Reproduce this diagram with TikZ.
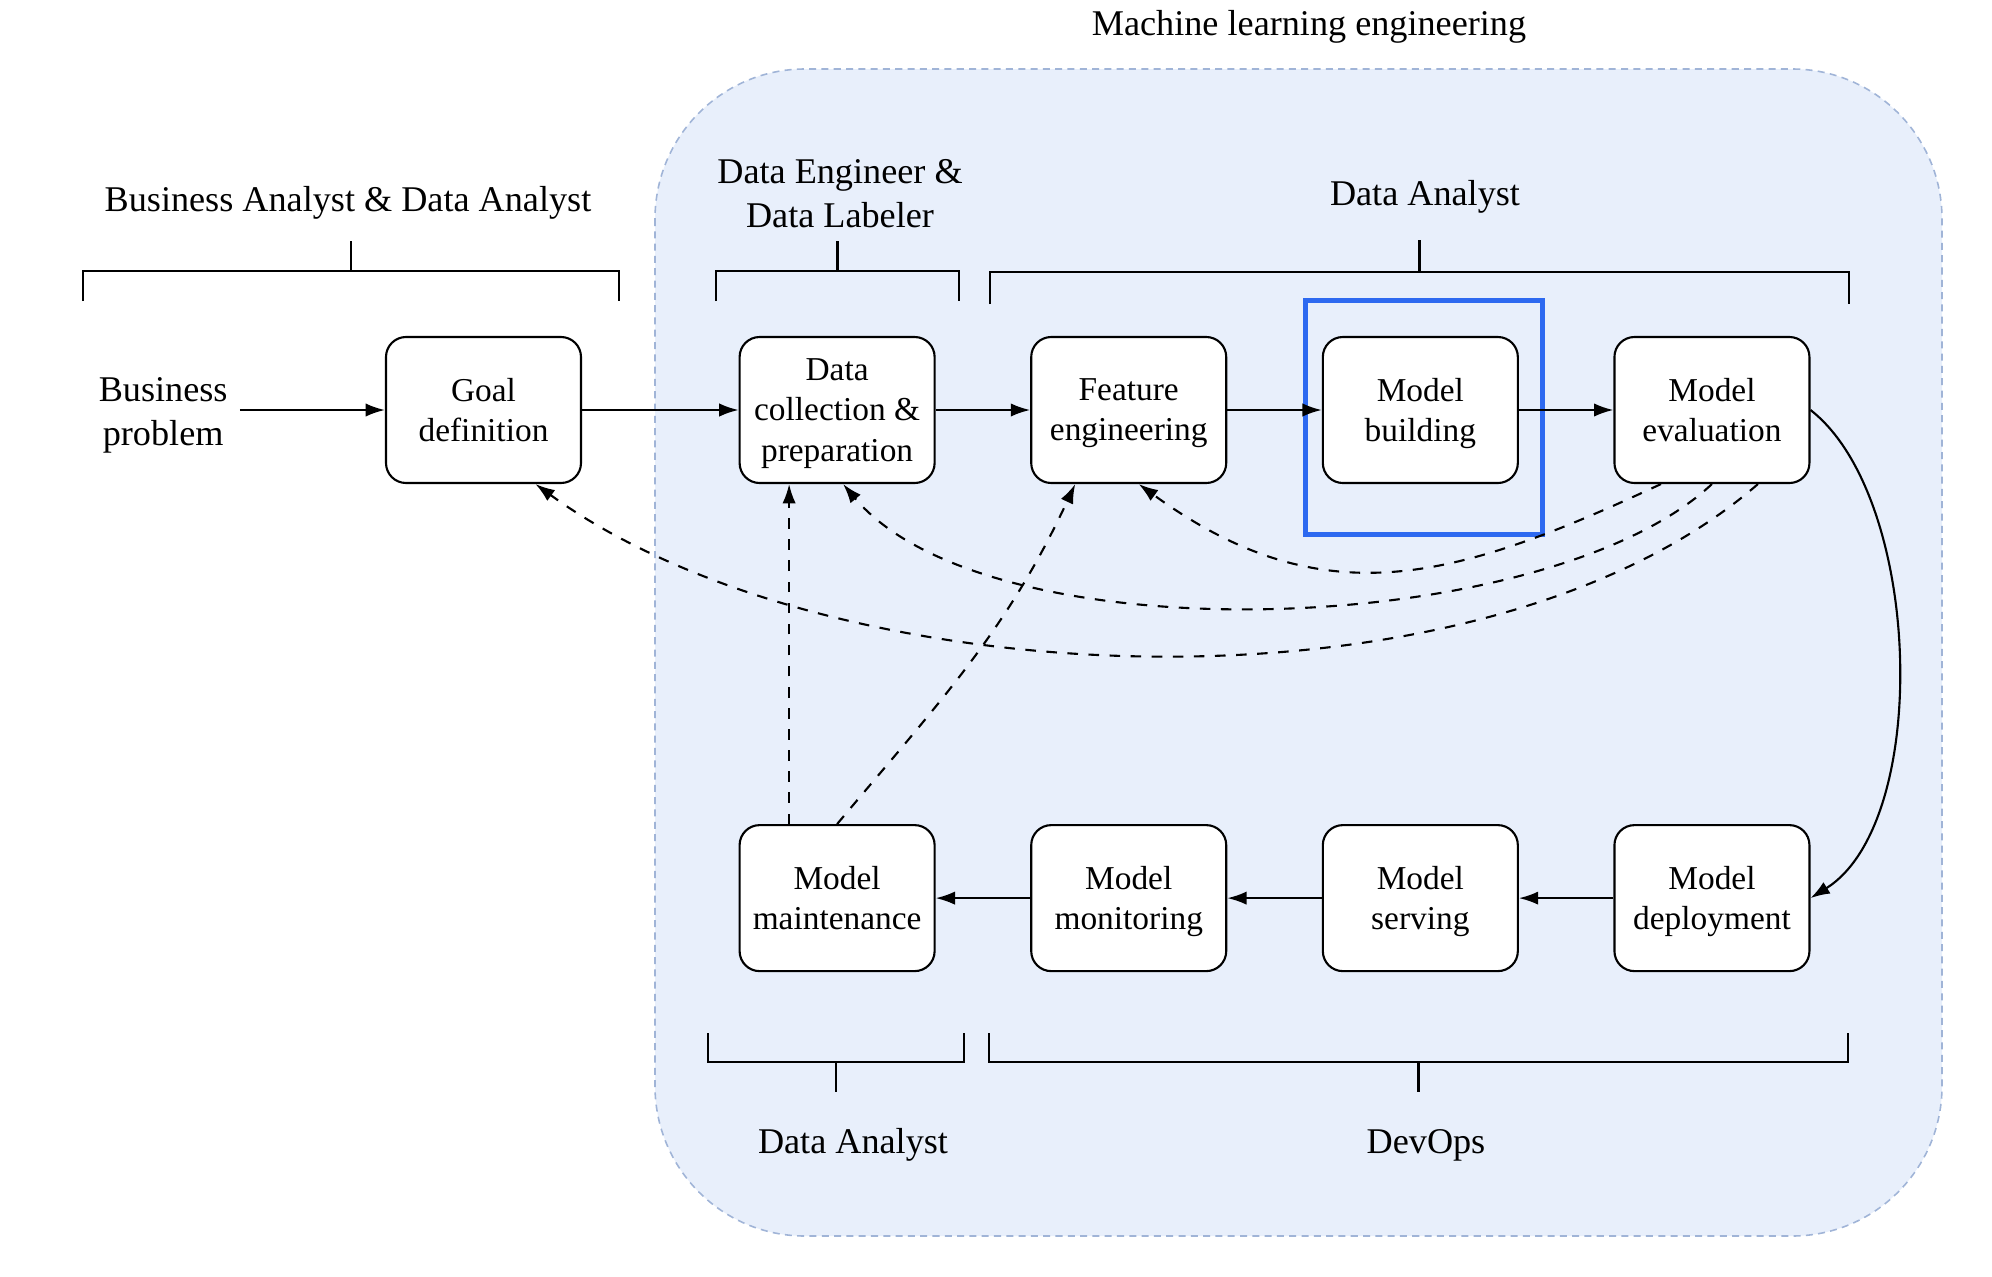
\documentclass[tikz,border=0pt]{standalone}
\usepackage{fontspec}
\setmainfont{Liberation Serif}
\usetikzlibrary{positioning,arrows.meta}

\definecolor{mlfill}{RGB}{232,239,251}
\definecolor{mledge}{RGB}{160,180,215}
\definecolor{focusblue}{RGB}{45,105,240}

\tikzset{
	stage/.style={draw, fill=white, rounded corners=0.2cm, line width=0.6pt, minimum width=1.95cm, minimum height=1.46cm, inner sep=0pt, text depth=0pt, align=center, font=\fontsize{9.5}{11.4}\selectfont},
	role/.style={align=center, font=\fontsize{10.3}{12.5}\selectfont},
	flow/.style={-{Latex[length=5.5pt,width=3.8pt]}, line width=0.6pt},
	feedback/.style={flow, dashed},
	rolebrace/.style={line width=0.6pt}
}

\begin{document}
\begin{tikzpicture}
	\useasboundingbox (0,0) rectangle (19.92,-12.76);
	
	
	
	% machine learning engineering area
	\draw [mledge, fill=mlfill, line width=0.45pt, dash pattern=on 2pt off 1.5pt, rounded corners=1.5cm] (6.55,-0.69) rectangle (19.42,-12.36);
	\node[role] (mle) at (13.09,-0.27) {Machine learning engineering};
	
	
	
	% top row
	\node[stage] (goal) at (4.835,-4.10) {Goal\\definition};
	\node[stage, right=1.565cm of goal] (data) {Data\\collection \&\\preparation};
	\node[stage, right=0.945cm of data] (feature) {Feature\\engineering};
	\node[stage, right=0.945cm of feature] (building) {Model\\building};
	\node[stage, right=0.945cm of building] (evaluation) {Model\\evaluation};
	\node[role, left=1.45cm of goal, yshift=-0.05cm] (problem) {Business\\problem};
	
	% bottom row
	\node[stage, below=3.40cm of data] (maintenance) {Model\\maintenance};
	\node[stage, right=0.945cm of maintenance] (monitoring) {Model\\monitoring};
	\node[stage, right=0.945cm of monitoring] (serving) {Model\\serving};
	\node[stage, right=0.945cm of serving] (deployment) {Model\\deployment};
	
	
	
	% highlight round model building
	\draw [focusblue, line width=1.4pt] ([shift={(-0.16,0.35)}]building.north west) rectangle ([shift={(0.24,-0.50)}]building.south east);
	
	
	
	% main flow
	\draw [flow] (problem.east |- goal) -- (goal);
	\draw [flow] (goal) -- (data);
	\draw [flow] (data) -- (feature);
	\draw [flow] (feature) -- (building);
	\draw [flow] (building) -- (evaluation);
	\draw [flow] (evaluation.east) to[out=-38, in=32, looseness=0.75] (deployment.east);
	\draw [flow] (deployment) -- (serving);
	\draw [flow] (serving) -- (monitoring);
	\draw [flow] (monitoring) -- (maintenance);
	
	% feedback loops
	\draw [feedback] ([xshift=-0.51cm]evaluation.south) to[out=-155, in=-36, looseness=1.12] ([xshift=0.10cm]feature.south);
	\draw [feedback] (evaluation.south) to[out=-137, in=-50, looseness=0.67] ([xshift=0.06cm]data.south);
	\draw [feedback] ([xshift=0.46cm]evaluation.south) to[out=-139, in=-36, looseness=0.77] ([xshift=0.52cm]goal.south);
	\draw [feedback] ([xshift=-0.48cm]maintenance.north) -- ([xshift=-0.48cm]data.south);
	\draw [feedback] (maintenance.north) to[out=50, in=-115] ([xshift=-0.535cm]feature.south);
	
	
	
	% roles above
	\draw [rolebrace] (0.83,-3.01) -- (0.83,-2.71) -- (6.19,-2.71) -- (6.19,-3.01);
	\draw [rolebrace] (3.51,-2.71) -- (3.51,-2.41);
	\node[role] (business) at (3.48,-2.03) {Business Analyst \& Data Analyst};
	
	\draw [rolebrace] (7.16,-3.01) -- (7.16,-2.71) -- (9.59,-2.71) -- (9.59,-3.01);
	\draw [rolebrace] (8.375,-2.71) -- (8.375,-2.41);
	\node[role] (engineer) at (8.40,-1.94) {Data Engineer \&\\Data Labeler};
	
	\draw [rolebrace] (9.90,-3.04) -- (9.90,-2.72) -- (18.49,-2.72) -- (18.49,-3.04);
	\draw [rolebrace] (14.195,-2.72) -- (14.195,-2.40);
	\node[role] (analystTop) at (14.25,-1.97) {Data Analyst};
	
	% roles below
	\draw [rolebrace] (7.08,-10.33) -- (7.08,-10.62) -- (9.64,-10.62) -- (9.64,-10.33);
	\draw [rolebrace] (8.36,-10.62) -- (8.36,-10.92);
	\node[role] (analystBottom) at (8.53,-11.45) {Data Analyst};
	
	\draw [rolebrace] (9.89,-10.33) -- (9.89,-10.62) -- (18.48,-10.62) -- (18.48,-10.33);
	\draw [rolebrace] (14.185,-10.62) -- (14.185,-10.92);
	\node[role] (devops) at (14.26,-11.45) {DevOps};
	
\end{tikzpicture}
\end{document}
